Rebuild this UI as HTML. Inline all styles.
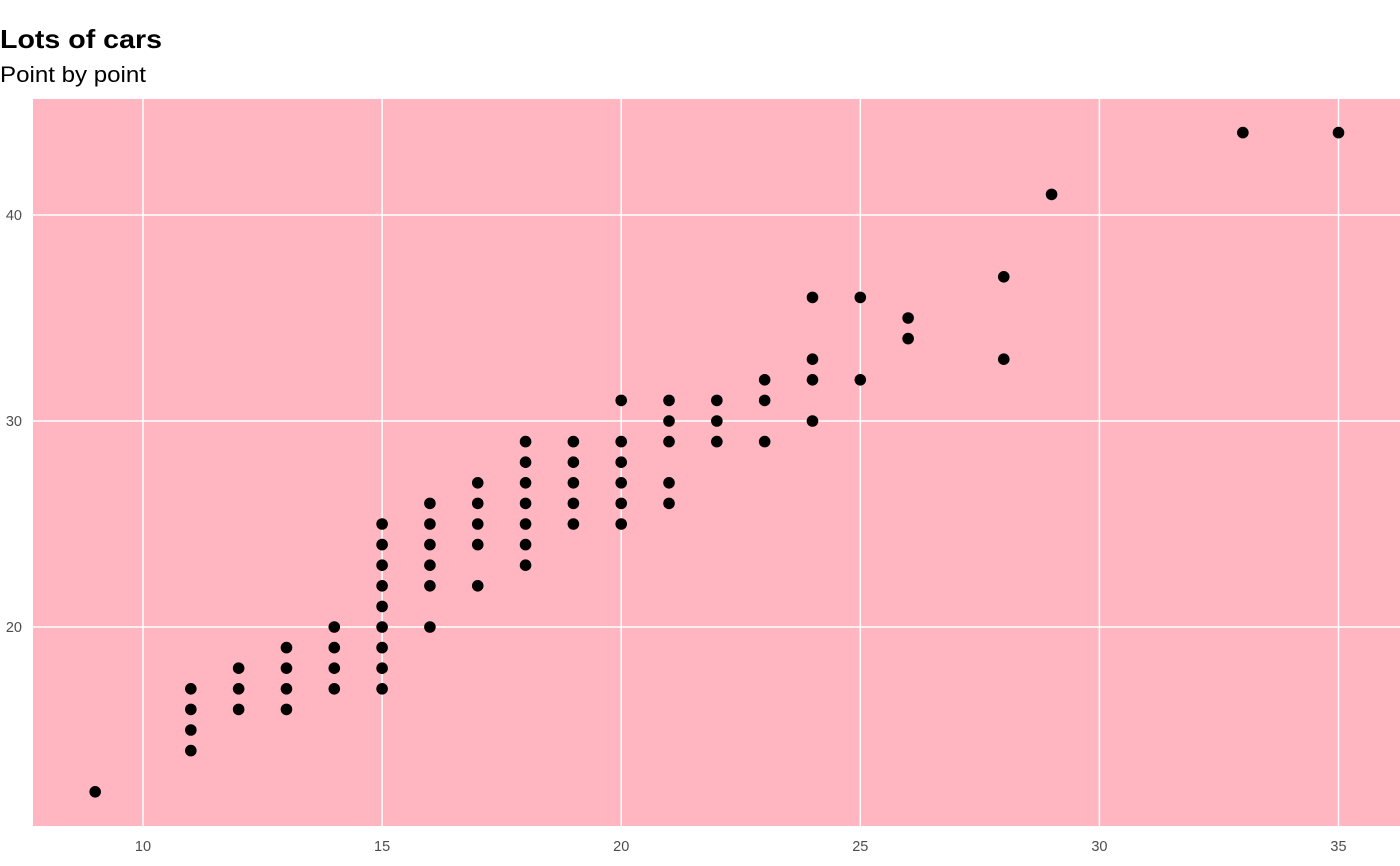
<!DOCTYPE html>
<html><head><meta charset="utf-8"><style>
html,body{margin:0;padding:0;background:#fff;width:1400px;height:866px;overflow:hidden;font-family:"Liberation Sans",Arial,sans-serif}
</style></head><body>
<svg id="chart" width="1400" height="866" xmlns="http://www.w3.org/2000/svg">
<text x="0" y="48" font-size="26" font-weight="bold" fill="#000" textLength="162" lengthAdjust="spacingAndGlyphs">Lots of cars</text>
<text x="0" y="82" font-size="22.5" fill="#000" textLength="146" lengthAdjust="spacingAndGlyphs">Point by point</text>
<rect x="33" y="99" width="1367" height="727" fill="#ffb6c1"/>
<g id="grid"></g>
<g id="ticks"></g>
<g id="points"></g>
</svg>
<script>
const cty = [9,11,11,11,11,12,12,12,13,13,13,13,14,14,14,14,15,15,15,15,15,15,15,15,15,16,16,16,16,16,16,17,17,17,17,17,18,18,18,18,18,18,18,19,19,19,19,19,20,20,20,20,20,20,21,21,21,21,21,22,22,22,23,23,23,24,24,24,24,25,25,26,26,28,28,29,33,35];
const hwy = [12,14,15,16,17,16,17,18,16,17,18,19,17,18,19,20,17,18,19,20,21,22,23,24,25,20,22,23,24,25,26,22,24,25,26,27,23,24,25,26,27,28,29,25,26,27,28,29,25,26,27,28,29,31,26,27,29,30,31,29,30,31,29,31,32,30,32,33,36,32,36,34,35,33,37,41,44,44];
const xTicks = [10,15,20,25,30,35];
const yTicks = [20,30,40];
const NS="http://www.w3.org/2000/svg";
function xs(v){return 143+(v-10)*47.82;}
function ys(v){return 627-(v-20)*20.6;}
const grid=document.getElementById('grid'),ticks=document.getElementById('ticks'),pts=document.getElementById('points');
xTicks.forEach(t=>{
  const l=document.createElementNS(NS,'line');
  
  
  l.setAttribute('x1',xs(t));l.setAttribute('x2',xs(t));l.setAttribute('y1',99);l.setAttribute('y2',826);
  l.setAttribute('stroke','#fff');l.setAttribute('stroke-width','1.5');grid.appendChild(l);
  const tx=document.createElementNS(NS,'text');
  
  
  tx.setAttribute('x',xs(t));tx.setAttribute('y',851);tx.setAttribute('text-anchor','middle');
  tx.setAttribute('font-size','14.5');tx.setAttribute('fill','#4d4d4d');tx.textContent=t;ticks.appendChild(tx);
});
yTicks.forEach(t=>{
  const l=document.createElementNS(NS,'line');
  
  
  l.setAttribute('x1',33);l.setAttribute('x2',1400);l.setAttribute('y1',ys(t));l.setAttribute('y2',ys(t));
  l.setAttribute('stroke','#fff');l.setAttribute('stroke-width','1.5');grid.appendChild(l);
  const tx=document.createElementNS(NS,'text');
  
  
  tx.setAttribute('x',22);tx.setAttribute('y',ys(t)+5);tx.setAttribute('text-anchor','end');
  tx.setAttribute('font-size','14.5');tx.setAttribute('fill','#4d4d4d');tx.textContent=t;ticks.appendChild(tx);
});
cty.forEach((c,i)=>{
  const p=document.createElementNS(NS,'circle');
  
  
  p.setAttribute('cx',xs(c));p.setAttribute('cy',ys(hwy[i]));p.setAttribute('r',5.8);p.setAttribute('fill','#000');
  pts.appendChild(p);
});
</script>
</body></html>
